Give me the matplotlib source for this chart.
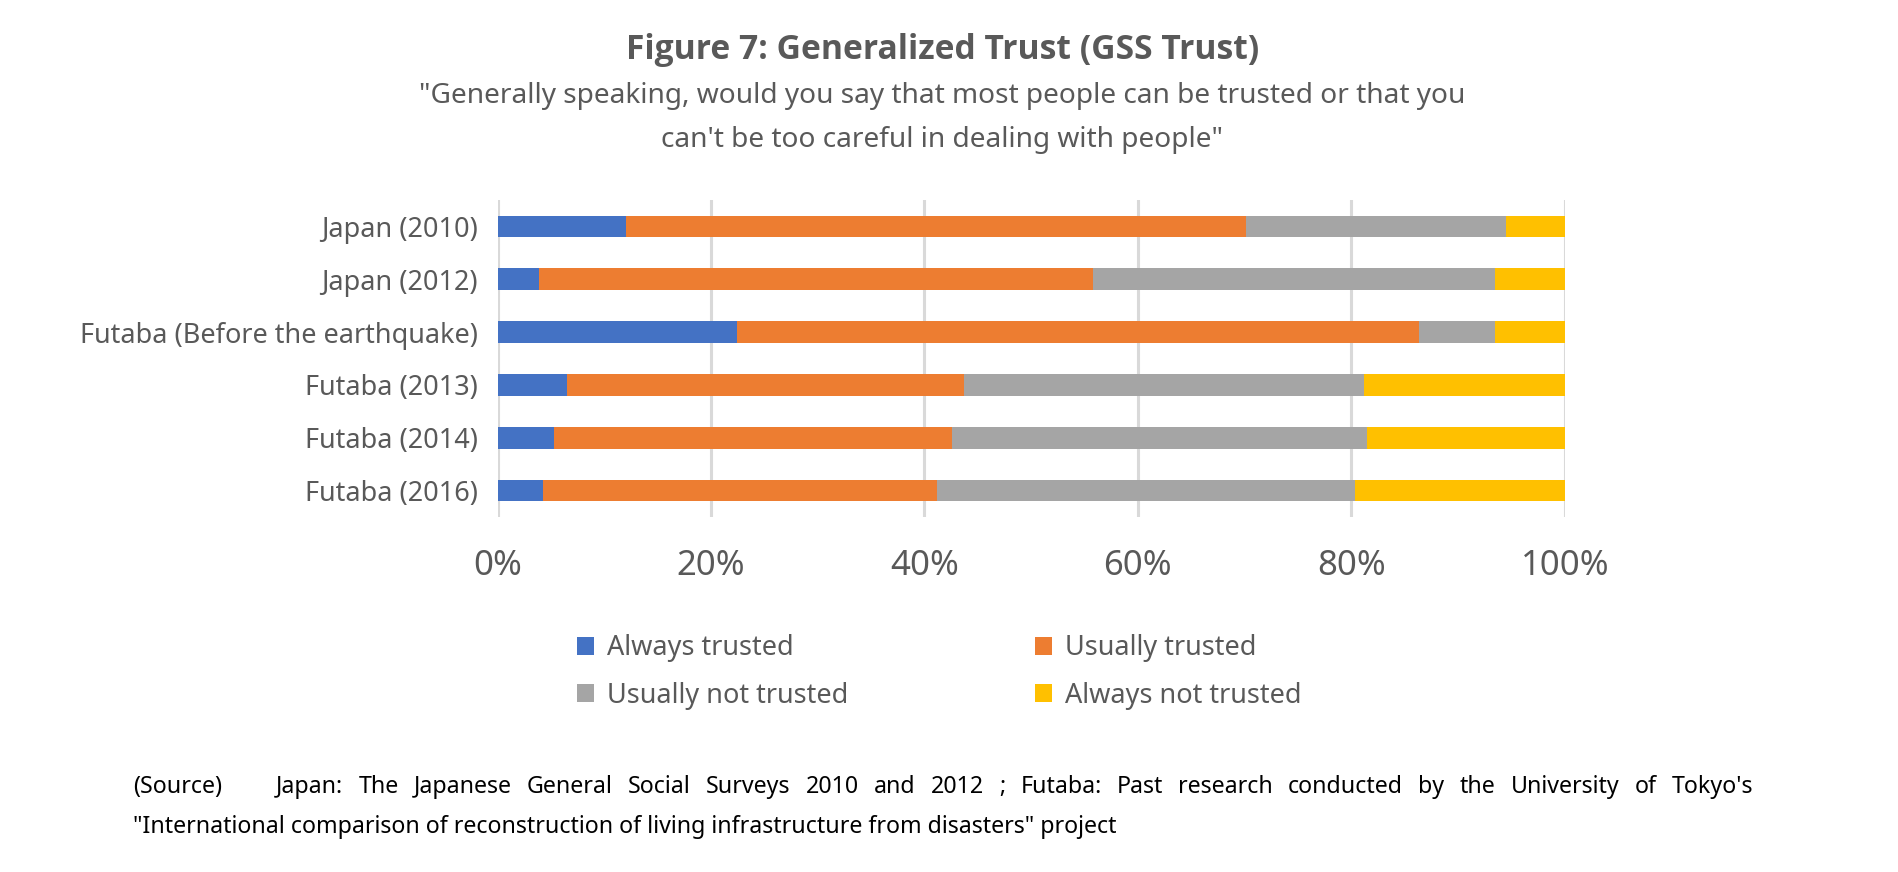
import matplotlib
matplotlib.use("Agg")
import matplotlib.pyplot as plt
import numpy as np

categories = ["Japan (2010)", "Japan (2012)", "Futaba (Before the earthquake)",
              "Futaba (2013)", "Futaba (2014)", "Futaba (2016)"]
series_names = ["Always trusted", "Usually trusted", "Usually not trusted", "Always not trusted"]
always_trusted = [12.0, 3.9, 22.4, 6.5, 5.3, 4.3]
usually_trusted = [58.1, 51.9, 63.9, 37.2, 37.3, 36.9]
usually_not_trusted = [24.4, 37.7, 7.2, 37.5, 38.9, 39.1]
always_not_trusted = [5.5, 6.5, 6.5, 18.8, 18.5, 19.7]
xtick_values = [0, 20, 40, 60, 80, 100]
xtick_labels = ["0%", "20%", "40%", "60%", "80%", "100%"]

colors = ["#4472C4", "#ED7D31", "#A5A5A5", "#FFC000"]
TXT = "#595959"
FONT = ["Noto Sans", "DejaVu Sans"]
plt.rcParams["font.family"] = FONT

W, H = 1898, 872
fig = plt.figure(figsize=(W / 100, H / 100), dpi=100)
fig.patch.set_facecolor("white")

ax = fig.add_axes([497.5 / W, 1 - 517 / H, (1564.8 - 497.5) / W, 317 / H])

y = np.arange(len(categories))
left = np.zeros(len(categories))
handles = []
for vals, col, name in zip([always_trusted, usually_trusted, usually_not_trusted, always_not_trusted],
                           colors, series_names):
    b = ax.barh(y, vals, left=left, height=0.41, color=col, label=name, zorder=3)
    handles.append(b)
    left = left + np.array(vals)

ax.set_xlim(0, 100)
ax.set_ylim(5.5, -0.5)
ax.set_xticks(xtick_values)
ax.set_xticklabels(xtick_labels, fontsize=25, color=TXT)
ax.set_yticks(y)
ax.set_yticklabels(categories, fontsize=19.5, color=TXT)
ax.tick_params(axis="both", length=0)
ax.tick_params(axis="x", pad=23)
ax.tick_params(axis="y", pad=14)
ax.xaxis.grid(True, color="#D9D9D9", linewidth=2.2, zorder=0)
ax.set_axisbelow(True)
for s in ax.spines.values():
    s.set_visible(False)

cx = 0.4965
fig.text(cx, 1 - 50 / H, "Figure 7: Generalized Trust (GSS Trust)", ha="center", va="center",
         fontsize=24.2, fontweight="bold", color=TXT, family=["Open Sans", "DejaVu Sans"])
fig.text(cx, 1 - 95.5 / H, "\"Generally speaking, would you say that most people can be trusted or that you",
         ha="center", va="center", fontsize=20.2, color=TXT)
fig.text(cx, 1 - 140 / H, "can't be too careful in dealing with people\"",
         ha="center", va="center", fontsize=20.2, color=TXT)

order = [0, 2, 1, 3]
leg = fig.legend([handles[i] for i in order], [series_names[i] for i in order], ncol=2,
                 loc="center", bbox_to_anchor=(0.4947, 1 - 672 / H), frameon=False,
                 fontsize=19.5, handlelength=0.65, handleheight=0.65, handletextpad=0.45,
                 columnspacing=6.9, labelspacing=0.73)
for t in leg.get_texts():
    t.set_color(TXT)

# Source text, first line justified
src_fs = 16.7
renderer = fig.canvas.get_renderer()
fig.text(133 / W, 1 - 787 / H, "(Source)", ha="left", va="center", fontsize=src_fs, color="black")
words = "Japan: The Japanese General Social Surveys 2010 and 2012 ; Futaba: Past research conducted by the University of Tokyo's".split(" ")
txts = [fig.text(0, 1 - 787 / H, w, ha="left", va="center", fontsize=src_fs, color="black") for w in words]
widths = [t.get_window_extent(renderer).width for t in txts]
x0, x1 = 276.0, 1753.0
gap = (x1 - x0 - sum(widths)) / (len(words) - 1)
xc = x0
for t, wd in zip(txts, widths):
    t.set_x(xc / W)
    xc += wd + gap
fig.text(133 / W, 1 - 827 / H,
         "\"International comparison of reconstruction of living infrastructure from disasters\" project",
         ha="left", va="center", fontsize=src_fs, color="black")

fig.savefig("out.png", dpi=100, facecolor="white")
